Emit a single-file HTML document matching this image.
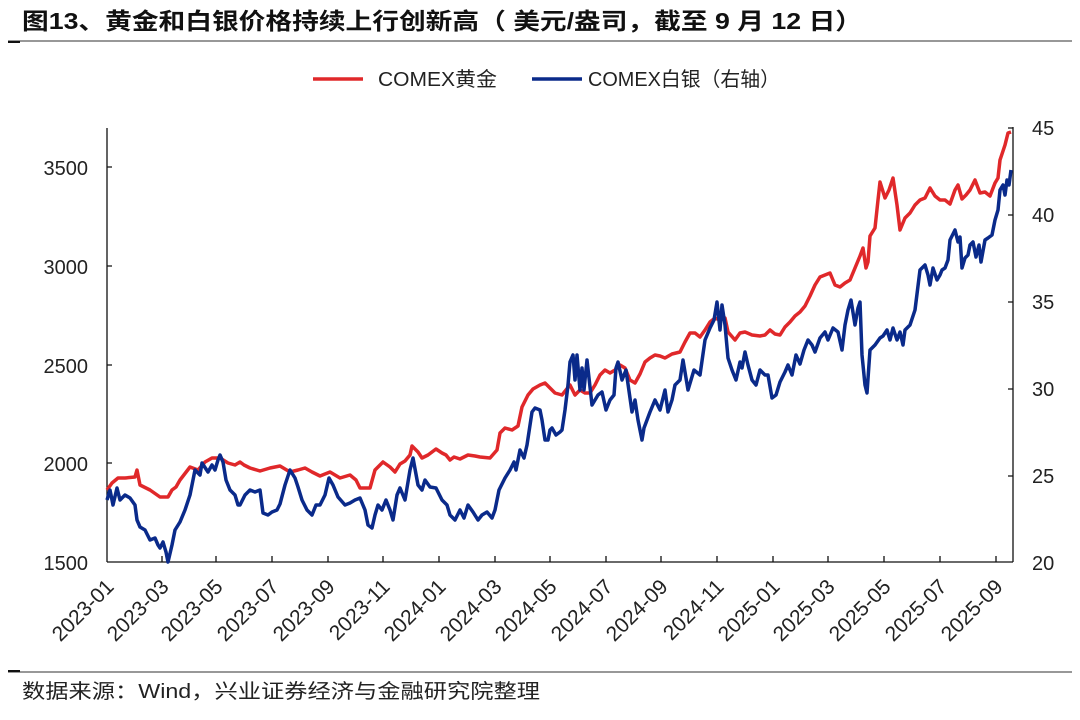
<!DOCTYPE html>
<html><head><meta charset="utf-8"><style>
body{margin:0;background:#fff;width:1080px;height:715px;overflow:hidden;font-family:"Liberation Sans","Noto Sans CJK SC",sans-serif}
</style></head><body>
<svg width="1080" height="715" xmlns="http://www.w3.org/2000/svg" font-family="Liberation Sans, Noto Sans CJK SC, sans-serif">
<text x="22" y="29" font-size="23" font-weight="bold" fill="#111" textLength="840" lengthAdjust="spacingAndGlyphs">图13、黄金和白银价格持续上行创新高（ 美元/盎司，截至 9 月 12 日）</text>
<line x1="8" y1="41" x2="1072" y2="41" stroke="#777" stroke-width="1.5"/>
<line x1="8" y1="42" x2="20" y2="42" stroke="#111" stroke-width="2"/>
<line x1="313" y1="79" x2="363" y2="79" stroke="#e0282a" stroke-width="3.5"/>
<text x="378" y="86" font-size="20" fill="#222" textLength="119" lengthAdjust="spacingAndGlyphs">COMEX黄金</text>
<line x1="532" y1="79" x2="582" y2="79" stroke="#0a2a8a" stroke-width="3.5"/>
<text x="588" y="86" font-size="20" fill="#222" textLength="192" lengthAdjust="spacingAndGlyphs">COMEX白银（右轴）</text>
<g stroke="#111" stroke-width="1.3" fill="none">
<line x1="107" y1="128" x2="107" y2="562"/>
<line x1="1013" y1="127" x2="1013" y2="562"/>
<line x1="107" y1="562" x2="1013" y2="562"/>
<path d="M107 167h5M107 266h5M107 365h5M107 463h5M1013 128h-5M1013 215h-5M1013 302h-5M1013 389h-5M1013 476h-5"/>
<path d="M162 562v-6M216 562v-6M272 562v-6M328 562v-6M383 562v-6M439 562v-6M495 562v-6M550 562v-6M606 562v-6M661 562v-6M717 562v-6M773 562v-6M828 562v-6M884 562v-6M940 562v-6M996 562v-6"/>
</g>
<g font-size="20" fill="#222" text-anchor="end">
<text x="88" y="175">3500</text><text x="88" y="274">3000</text><text x="88" y="373">2500</text><text x="88" y="471">2000</text><text x="88" y="570">1500</text>
</g>
<g font-size="20" fill="#222">
<text x="1032" y="135">45</text><text x="1032" y="222">40</text><text x="1032" y="309">35</text><text x="1032" y="396">30</text><text x="1032" y="483">25</text><text x="1032" y="570">20</text>
</g>
<g font-size="21" fill="#222" text-anchor="end">
<text transform="translate(115,588) rotate(-45)">2023-01</text>
<text transform="translate(170,588) rotate(-45)">2023-03</text>
<text transform="translate(224,588) rotate(-45)">2023-05</text>
<text transform="translate(280,588) rotate(-45)">2023-07</text>
<text transform="translate(336,588) rotate(-45)">2023-09</text>
<text transform="translate(391,588) rotate(-45)">2023-11</text>
<text transform="translate(447,588) rotate(-45)">2024-01</text>
<text transform="translate(503,588) rotate(-45)">2024-03</text>
<text transform="translate(558,588) rotate(-45)">2024-05</text>
<text transform="translate(614,588) rotate(-45)">2024-07</text>
<text transform="translate(669,588) rotate(-45)">2024-09</text>
<text transform="translate(725,588) rotate(-45)">2024-11</text>
<text transform="translate(781,588) rotate(-45)">2025-01</text>
<text transform="translate(836,588) rotate(-45)">2025-03</text>
<text transform="translate(892,588) rotate(-45)">2025-05</text>
<text transform="translate(948,588) rotate(-45)">2025-07</text>
<text transform="translate(1004,588) rotate(-45)">2025-09</text>
</g>
<polyline fill="none" stroke="#e0282a" stroke-width="3.5" stroke-linejoin="round" points="107,490 112,483 118,478 125,478 135,477 137,470 140,485 150,490 160,497 168,497 172,490 176,487 180,480 190,467 198,470 205,462 212,458 220,458 228,463 235,465 240,462 244,465 250,468 260,471 270,468 280,466 290,472 298,470 305,468 312,472 320,476 330,472 340,478 350,475 356,480 360,488 365,488 370,488 375,470 383,462 390,467 395,472 400,464 405,461 410,455 412,446 418,452 422,458 428,455 436,449 442,453 446,455 450,460 454,457 460,459 468,455 475,456 480,457 490,458 497,450 500,433 505,428 512,430 518,426 522,407 528,395 533,389 540,385 545,383 550,388 555,393 562,395 566,390 570,385 575,395 580,390 585,393 590,393 595,385 600,375 605,370 610,373 615,370 620,365 625,368 630,380 635,383 640,374 645,362 650,358 655,355 660,356 665,358 672,354 680,352 685,342 690,333 695,333 700,337 705,330 710,322 715,318 720,320 725,318 728,332 735,340 740,333 745,332 752,335 760,336 765,335 770,330 775,334 780,335 785,327 790,322 795,316 800,312 805,306 810,296 815,285 820,277 825,275 830,273 835,285 840,287 845,283 850,280 855,268 860,256 863,248 866,268 868,262 870,236 875,228 878,200 880,182 885,198 889,190 893,178 897,205 900,230 905,218 910,213 915,205 920,200 925,198 930,188 935,196 940,200 945,200 950,204 955,190 958,185 962,199 966,195 970,190 975,180 980,193 985,192 990,196 995,183 998,178 1000,160 1005,145 1008,133 1011,132"/>
<polyline fill="none" stroke="#0a2a8a" stroke-width="3.5" stroke-linejoin="round" points="107,500 110,490 113,505 117,488 120,500 125,495 130,498 135,505 137,520 140,527 145,530 150,540 155,538 158,545 160,548 163,542 166,552 168,562 172,545 175,530 180,522 185,510 190,495 195,470 200,475 202,463 208,472 212,465 215,470 218,460 220,455 223,462 226,480 230,490 235,495 238,505 240,505 245,495 250,490 255,492 260,490 263,513 268,515 272,512 277,510 280,504 285,485 290,470 295,478 298,487 302,500 307,510 312,515 316,505 320,505 325,495 329,478 333,485 338,497 345,505 350,503 355,500 360,498 365,510 368,525 372,528 375,515 378,505 382,510 386,500 390,510 393,520 397,495 400,488 405,500 410,470 413,458 418,485 422,490 425,480 430,487 436,488 442,500 447,505 450,515 455,520 460,510 464,518 468,505 473,512 478,520 482,515 487,512 492,518 495,510 499,490 505,478 510,470 514,462 516,470 520,450 524,458 527,445 532,412 535,408 540,410 542,420 545,440 548,440 550,430 552,428 556,435 560,432 562,430 565,410 568,385 570,362 573,355 575,380 577,355 580,390 582,368 584,390 587,360 592,405 598,395 602,392 606,410 610,400 614,395 616,368 618,362 622,380 626,370 632,412 635,400 638,420 642,440 644,428 650,412 655,400 660,410 665,390 668,412 672,400 675,385 680,380 683,360 688,390 694,370 700,375 705,340 710,328 714,320 717,302 720,330 722,305 725,325 728,358 732,370 736,380 740,362 742,368 745,352 748,365 752,380 756,385 760,370 765,375 768,375 772,398 776,395 780,382 785,372 788,365 792,375 796,355 800,364 804,350 808,340 812,345 815,352 820,338 825,332 828,340 833,328 838,332 842,350 845,325 848,310 851,300 855,325 858,308 860,302 862,355 865,385 867,393 870,350 875,345 880,338 883,336 887,330 890,340 893,328 897,340 900,332 903,345 905,330 910,325 915,310 920,270 925,265 928,275 930,285 933,268 937,280 940,275 942,270 945,268 948,260 950,240 955,230 958,242 960,237 962,268 965,258 968,255 970,245 973,242 976,257 979,245 981,262 985,240 988,238 992,235 995,220 998,210 1000,190 1003,185 1005,195 1007,180 1009,185 1011,170"/>
<line x1="8" y1="672" x2="1072" y2="672" stroke="#777" stroke-width="1.5"/>
<line x1="8" y1="671" x2="20" y2="671" stroke="#111" stroke-width="2"/>
<text x="22" y="698" font-size="20" fill="#222" textLength="518" lengthAdjust="spacingAndGlyphs">数据来源：Wind，兴业证券经济与金融研究院整理</text>
</svg>
</body></html>
